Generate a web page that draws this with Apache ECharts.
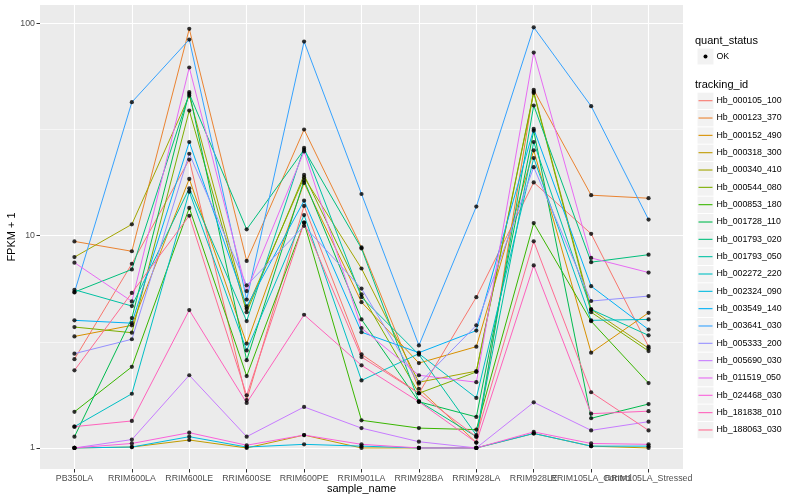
<!DOCTYPE html>
<html><head><meta charset="utf-8">
<script src="https://cdn.jsdelivr.net/npm/echarts@6/dist/echarts.min.js"></script>
<style>html,body{margin:0;padding:0;background:#fff}#c{width:800px;height:500px}</style>
</head><body><div id="c"></div>
<script>
const categories = ['PB350LA','RRIM600LA','RRIM600LE','RRIM600SE','RRIM600PE','RRIM901LA','RRIM928BA','RRIM928LA','RRIM928LE','RRIM105LA_Control','RRIM105LA_Stressed'];
const trackingIds = ['Hb_000105_100','Hb_000123_370','Hb_000152_490','Hb_000318_300','Hb_000340_410','Hb_000544_080','Hb_000853_180','Hb_001728_110','Hb_001793_020','Hb_001793_050','Hb_002272_220','Hb_002324_090','Hb_003549_140','Hb_003641_030','Hb_005333_200','Hb_005690_030','Hb_011519_050','Hb_024468_030','Hb_181838_010','Hb_188063_030'];
const colors = ['#F8766D','#EA8331','#D89000','#C09B00','#A3A500','#7CAE00','#39B600','#00BB4E','#00BF7D','#00C1A3','#00BFC4','#00BAE0','#00B0F6','#35A2FF','#9590FF','#C77CFF','#E76BF3','#FA62DB','#FF62BC','#FF6C91'];
const yTicks = [1, 10, 100];
const yMinorTicks = [3.162, 31.62];

// FPKM + 1 per sample, one array per tracking_id
const v_000105_100 = [2.62, 7.37, 22.8, 1.68, 13.8, 2.76, 1.81, 5.13, 17.8, 10.2, 3.0];
const v_000123_370 = [9.39, 8.44, 94.1, 7.6, 31.6, 8.8, 1.9, 1.06, 48.6, 15.5, 15.0];
const v_000152_490 = [3.35, 3.78, 18.5, 3.1, 17.7, 4.86, 2.51, 3.0, 25.2, 2.81, 4.33];
const v_000318_300 = [1.0, 1.01, 1.09, 1.0, 1.15, 1.0, 1.0, 1.0, 1.17, 1.02, 1.0];
const v_000340_410 = [7.92, 11.3, 45.6, 4.52, 18.8, 7.0, 2.04, 2.3, 47.6, 4.49, 2.95];
const v_000544_080 = [3.71, 3.49, 38.8, 4.36, 19.3, 5.29, 1.81, 2.28, 47.0, 4.36, 2.86];
const v_000853_180 = [1.48, 2.41, 13.5, 2.18, 11.5, 1.35, 1.24, 1.22, 11.45, 3.95, 2.02];
const v_001728_110 = [1.13, 4.09, 47.4, 2.59, 18.2, 4.03, 1.65, 1.4, 31.2, 1.38, 1.61];
const v_001793_020 = [5.42, 6.93, 46.6, 10.7, 25.4, 8.7, 1.66, 1.13, 41.0, 7.5, 8.13];
const v_001793_050 = [5.56, 4.66, 16.7, 3.96, 25.9, 5.13, 2.75, 1.15, 27.6, 4.49, 3.39];
const v_002272_220 = [1.26, 1.8, 16.1, 2.88, 12.5, 2.08, 2.78, 1.72, 23.2, 3.99, 4.03];
const v_002324_090 = [1.0, 1.01, 1.13, 1.01, 1.04, 1.02, 1.0, 1.0, 1.17, 1.02, 1.02];
const v_003549_140 = [3.99, 3.87, 27.6, 4.64, 14.6, 3.51, 2.81, 3.57, 31.8, 5.78, 3.61];
const v_003641_030 = [5.4, 42.5, 83.8, 5.0, 82.0, 15.7, 3.04, 13.7, 95.7, 40.7, 11.9];
const v_005333_200 = [2.78, 3.25, 24.3, 5.83, 11.1, 5.63, 2.01, 3.78, 21.0, 4.92, 5.19];
const v_005690_030 = [1.0, 1.095, 2.2, 1.13, 1.56, 1.24, 1.07, 1.0, 1.64, 1.21, 1.33];
const v_011519_050 = [7.46, 4.9, 61.9, 5.48, 24.9, 3.67, 2.2, 2.04, 72.8, 7.85, 6.7];
const v_024468_030 = [1.0, 1.05, 1.18, 1.03, 1.15, 1.04, 1.0, 1.0, 1.19, 1.05, 1.04];
const v_181838_010 = [1.26, 1.34, 4.46, 1.63, 4.24, 2.45, 1.65, 1.06, 7.24, 1.45, 1.49];
const v_188063_030 = [2.32, 5.37, 12.4, 1.77, 11.5, 2.68, 1.81, 1.13, 9.4, 1.83, 1.21];

const seriesValues = [v_000105_100, v_000123_370, v_000152_490, v_000318_300, v_000340_410, v_000544_080, v_000853_180, v_001728_110, v_001793_020, v_001793_050, v_002272_220, v_002324_090, v_003549_140, v_003641_030, v_005333_200, v_005690_030, v_011519_050, v_024468_030, v_181838_010, v_188063_030];

const FONT = "'Liberation Sans', Arial, Helvetica, sans-serif";
const chart = echarts.init(document.getElementById('c'), null, {renderer: 'canvas'});

// discrete positions 1..n (as in ggplot's discrete scale)
const pos = categories.map((c, i) => i + 1);
const posA = pos.filter(p => p % 2 === 1);
const posB = pos.filter(p => p % 2 === 0);
const lineSeries = seriesValues.map((vals, s) => ({
  type: 'line', name: trackingIds[s],
  data: vals.map((v, i) => [pos[i], v]),
  symbol: 'none', lineStyle: {color: colors[s], width: 1}, itemStyle: {color: colors[s]},
  z: 3
}));
const pts = [];
seriesValues.forEach(vals => vals.forEach((v, i) => pts.push([pos[i], v])));
const scatter = {type: 'scatter', name: 'OK', data: pts, symbolSize: 4.2, itemStyle: {color: '#000'}, z: 5};

// titles and legend drawn in ggplot style
const graphics = [];
graphics.push({type: 'text', x: 361.5, y: 489, style: {text: 'sample_name', font: '11px ' + FONT, fill: '#000', align: 'center', verticalAlign: 'middle'}});
graphics.push({type: 'text', x: 12, y: 237, rotation: Math.PI / 2, style: {text: 'FPKM + 1', font: '11px ' + FONT, fill: '#000', align: 'center', verticalAlign: 'middle'}});
graphics.push({type: 'text', x: 695, y: 41, style: {text: 'quant_status', font: '11px ' + FONT, fill: '#000', verticalAlign: 'middle'}});
graphics.push({type: 'rect', shape: {x: 697.5, y: 48.5, width: 16, height: 16}, style: {fill: '#F2F2F2'}});
graphics.push({type: 'circle', shape: {cx: 705.5, cy: 56.5, r: 2}, style: {fill: '#000'}});
graphics.push({type: 'text', x: 716.5, y: 56.5, style: {text: 'OK', font: '8.8px ' + FONT, fill: '#000', verticalAlign: 'middle'}});
graphics.push({type: 'text', x: 695, y: 85, style: {text: 'tracking_id', font: '11px ' + FONT, fill: '#000', verticalAlign: 'middle'}});
trackingIds.forEach((name, i) => {
  const cy = 100.7 + i * 17.33;
  graphics.push({type: 'rect', shape: {x: 697.5, y: cy - 8, width: 16, height: 16.3}, style: {fill: '#F2F2F2'}});
  graphics.push({type: 'line', shape: {x1: 698.5, y1: cy, x2: 712.5, y2: cy}, style: {stroke: colors[i], lineWidth: 1.1}});
  graphics.push({type: 'text', x: 716.5, y: cy, style: {text: name, font: '8.8px ' + FONT, fill: '#000', verticalAlign: 'middle'}});
});

const xLabel = {formatter: v => categories[Math.round(v) - 1], fontFamily: FONT, fontSize: 8.8, color: '#4D4D4D', margin: 5, hideOverlap: false};
const option = {
  animation: false,
  backgroundColor: '#fff',
  grid: {left: 40, right: 117, top: 5, bottom: 31, show: true, backgroundColor: '#EBEBEB', borderWidth: 0, containLabel: false, outerBoundsMode: 'none'},
  xAxis: [{
    type: 'value', min: 0.4, max: 11.6, position: 'bottom',
    axisLine: {show: false, onZero: false},
    axisTick: {show: true, customValues: pos, length: 3.5, lineStyle: {color: '#333', width: 1}},
    axisLabel: Object.assign({customValues: posA}, xLabel),
    splitLine: {show: true, lineStyle: {color: '#fff', width: 1.1}}
  }, {
    type: 'value', min: 0.4, max: 11.6, position: 'bottom',
    axisLine: {show: false, onZero: false},
    axisTick: {show: false, customValues: posB},
    axisLabel: Object.assign({customValues: posB}, xLabel),
    splitLine: {show: false}
  }],
  yAxis: [{
    type: 'log', logBase: 10, min: 0.796, max: 121.9, position: 'left',
    axisLine: {show: false, onZero: false},
    axisTick: {show: true, customValues: yTicks, length: 3.5, lineStyle: {color: '#333', width: 1}},
    axisLabel: {customValues: yTicks, formatter: v => String(v), fontFamily: FONT, fontSize: 8.8, color: '#4D4D4D', margin: 5},
    splitLine: {show: true, lineStyle: {color: '#fff', width: 1.1}}
  }, {
    type: 'log', logBase: 10, min: 0.796, max: 121.9, position: 'left',
    axisLine: {show: false, onZero: false},
    axisTick: {show: false, customValues: yMinorTicks},
    axisLabel: {show: false, customValues: yMinorTicks},
    splitLine: {show: true, lineStyle: {color: '#fff', width: 0.55}}
  }],
  series: lineSeries.concat([scatter]),
  graphic: graphics
};
chart.setOption(option);
</script></body></html>
